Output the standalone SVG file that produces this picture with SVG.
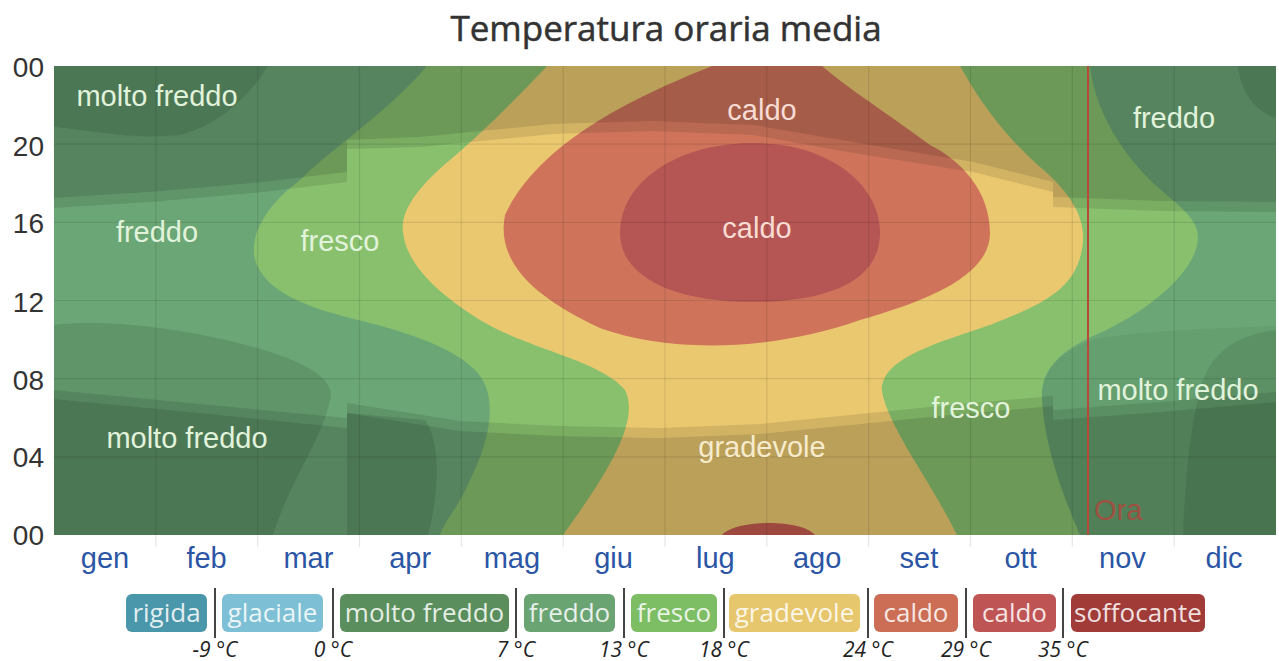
<svg xmlns="http://www.w3.org/2000/svg" width="1279" height="661" viewBox="0 0 1279 661">
<style>
.lbl{font-family:"Liberation Sans",Arial,sans-serif;font-size:29px;text-anchor:middle}
.g{fill:#e2f3dc}.r{fill:#f8dcd4}.y{fill:#f6ebcc}
.ax{font-family:"Liberation Sans",Arial,sans-serif;font-size:28px;fill:#333;text-anchor:end}
.mo{font-family:"Liberation Sans",Arial,sans-serif;font-size:29px;fill:#2b55a5;text-anchor:middle}
.lg{font-family:"Open Sans","Liberation Sans",sans-serif;font-size:26px;fill:#fff;fill-opacity:.85;text-anchor:middle}
.tc{font-family:"Open Sans","Liberation Sans",sans-serif;font-style:italic;font-size:21px;fill:#222;text-anchor:middle}
.sep{stroke:#444;stroke-width:2}
.grid{stroke:#000;stroke-opacity:.1;stroke-width:1.2}
.night{fill:#000;fill-opacity:.2}
.twi{fill:#000;fill-opacity:.1}
</style>
<rect width="1279" height="661" fill="#fff"/>
<text x="666" y="41" text-anchor="middle" font-family="'Open Sans','Liberation Sans',sans-serif" font-size="35" fill="#333" stroke="#333" stroke-width="0.5">Temperatura oraria media</text>
<g id="chart-areas">
<rect x="54" y="66" width="1222" height="469" fill="#6ba676"/>
<path fill="#5f9569" d="M54,66 L268,66 C250,95 220,125 180,135 C130,140 90,130 54,127 Z"/>
<path fill="#5f9569" d="M54,325 C110,318 200,330 270,352 C320,368 335,385 330,400 C322,440 290,480 273,535 L54,535 Z"/>
<path fill="#5f9569" d="M347,413 L425,420 C440,440 440,490 428,535 L347,535 Z"/>
<path fill="#5f9569" d="M1238,66 C1240,90 1255,112 1276,118 L1276,66 Z"/>
<path fill="#659f6f" d="M1042,400 C1040,370 1060,350 1100,338 C1150,330 1220,328 1276,326 L1276,535 L1080,535 C1065,500 1045,450 1042,400 Z"/>
<path fill="#5c9165" d="M1276,330 C1240,335 1210,350 1200,390 C1190,430 1185,480 1183,535 L1276,535 Z"/>
<path fill="#88c06e" d="M427,66 C390,110 330,150 300,180 C260,210 250,240 255,260 C265,290 300,305 350,318 C400,330 450,345 475,370 C500,395 490,440 470,480 C460,505 445,520 440,535 L1080,535 C1065,500 1045,450 1042,400 C1040,370 1060,350 1100,333 C1150,310 1198,270 1198,237 C1198,215 1170,200 1150,180 C1120,150 1095,110 1090,66 Z"/>
<path fill="#eac870" d="M547,66 C520,95 480,135 450,160 C420,185 400,210 403,232 C406,265 440,295 480,320 C530,350 600,360 625,390 C640,420 610,470 563,535 L957,535 C930,480 890,430 882,392 C880,360 930,345 990,325 C1040,305 1080,290 1083,240 C1085,210 1060,185 1047,173 C1020,150 990,120 960,66 Z"/>
<path fill="#cf745b" d="M712,66 C640,95 540,140 505,215 C495,265 540,300 600,328 C660,350 760,355 860,320 C930,300 990,275 990,233 C990,190 960,160 930,145 C890,115 850,90 822,66 Z"/>
<path fill="#b55654" d="M620,233 C620,180 680,143 753,143 C830,143 880,185 880,233 C880,280 830,302 753,302 C670,302 620,275 620,233 Z"/>
<path fill="#c55c50" d="M722,535 C735,520 800,518 815,535 Z"/>
</g>
<g id="night-shading">
<path class="night" d="M54,66 H1276 V202 L1160,201 L1053,197 V182 L973,162 L853,142 L753,125 L653,121 L553,124 L420,137 L347,140 V172 L253,183 L150,192 L54,198 Z"/>
<path class="twi" d="M54,198 L150,192 L253,183 L347,172 V140 L420,137 L553,124 L653,121 L753,125 L853,142 L973,162 L1053,182 V197 L1160,201 L1276,202 V212 L1160,211 L1053,207 V192 L973,172 L853,153 L753,135 L653,131 L553,134 L420,147 L347,149 V182 L253,193 L150,202 L54,208 Z"/>
<path class="night" d="M54,399 L200,413 L347,428 V413 L460,431 L560,436 L660,438 L760,434 L860,424 L960,414 L1053,406 V420 L1160,412 L1276,402 V535 H54 Z"/>
<path class="twi" d="M54,390 L200,404 L347,418 V403 L460,421 L560,426 L660,428 L760,424 L860,414 L960,404 L1053,396 V410 L1160,402 L1276,392 V402 L1160,412 L1053,420 V406 L960,414 L860,424 L760,434 L660,438 L560,436 L460,431 L347,413 V428 L200,413 L54,399 Z"/>
</g>
<g id="grid">
<path class="grid" d="M155.8,66V547M257.7,66V547M359.5,66V547M461.3,66V547M563.2,66V547M665,66V547M766.8,66V547M868.7,66V547M970.5,66V547M1072.3,66V547M1174.2,66V547"/>
<path class="grid" d="M54,144.2H1276M54,222.4H1276M54,300.5H1276M54,378.7H1276M54,456.8H1276"/>
</g>
<g id="now-marker">
<line x1="1088" y1="66" x2="1088" y2="535" stroke="#b5493a" stroke-width="2"/>
<text x="1094" y="520" font-family="'Liberation Sans',Arial,sans-serif" font-size="29" fill="#b5453a" fill-opacity=".8">Ora</text>
</g>
<g id="area-labels" class="lbl">
<text class="g" x="157" y="106">molto freddo</text>
<text class="g" x="157" y="242">freddo</text>
<text class="g" x="340" y="251">fresco</text>
<text class="g" x="187" y="448">molto freddo</text>
<text class="r" x="762" y="120">caldo</text>
<text class="r" x="757" y="238">caldo</text>
<text class="y" x="762" y="457">gradevole</text>
<text class="g" x="971" y="418">fresco</text>
<text class="g" x="1178" y="400">molto freddo</text>
<text class="g" x="1174" y="128">freddo</text>
</g>
<g id="y-axis" class="ax">
<text x="44" y="77">00</text>
<text x="44" y="156">20</text>
<text x="44" y="233">16</text>
<text x="44" y="312">12</text>
<text x="44" y="390">08</text>
<text x="44" y="467">04</text>
<text x="44" y="545">00</text>
</g>
<g id="x-axis" class="mo">
<text x="105" y="568">gen</text>
<text x="206.6" y="568">feb</text>
<text x="308.4" y="568">mar</text>
<text x="410.1" y="568">apr</text>
<text x="511.9" y="568">mag</text>
<text x="613.6" y="568">giu</text>
<text x="715.4" y="568">lug</text>
<text x="817.1" y="568">ago</text>
<text x="918.9" y="568">set</text>
<text x="1020.6" y="568">ott</text>
<text x="1122.4" y="568">nov</text>
<text x="1224.1" y="568">dic</text>
</g>
<g id="legend">
<g id="lg-rigida"><rect x="126" y="594" width="81" height="38" rx="6" fill="#4a96aa"/><text class="lg" x="166.5" y="622">rigida</text></g>
<g id="lg-glaciale"><rect x="222" y="594" width="101" height="38" rx="6" fill="#7dbfd4"/><text class="lg" x="272.5" y="622">glaciale</text></g>
<g id="lg-moltofreddo"><rect x="340" y="594" width="169" height="38" rx="6" fill="#5a8f5d"/><text class="lg" x="424.5" y="622">molto freddo</text></g>
<g id="lg-freddo"><rect x="524" y="594" width="91" height="38" rx="6" fill="#6aa473"/><text class="lg" x="569.5" y="622">freddo</text></g>
<g id="lg-fresco"><rect x="631" y="594" width="86" height="38" rx="6" fill="#7dbd64"/><text class="lg" x="674" y="622">fresco</text></g>
<g id="lg-gradevole"><rect x="729" y="594" width="131" height="38" rx="6" fill="#e7c76e"/><text class="lg" x="794.5" y="622">gradevole</text></g>
<g id="lg-caldo1"><rect x="874" y="594" width="84" height="38" rx="6" fill="#cc6e55"/><text class="lg" x="916" y="622">caldo</text></g>
<g id="lg-caldo2"><rect x="973" y="594" width="83" height="38" rx="6" fill="#bf5454"/><text class="lg" x="1014.5" y="622">caldo</text></g>
<g id="lg-soffocante"><rect x="1071" y="594" width="134" height="38" rx="6" fill="#a03b38"/><text class="lg" x="1138" y="622">soffocante</text></g>
<path class="sep" d="M215,588V638M333,588V638M516,588V638M624,588V638M724,588V638M868,588V638M966,588V638M1063,588V638"/>
<g class="tc">
<text x="215" y="657">-9 °C</text>
<text x="333" y="657">0 °C</text>
<text x="516" y="657">7 °C</text>
<text x="624" y="657">13 °C</text>
<text x="724" y="657">18 °C</text>
<text x="868" y="657">24 °C</text>
<text x="966" y="657">29 °C</text>
<text x="1063" y="657">35 °C</text>
</g>
</g>
</svg>
